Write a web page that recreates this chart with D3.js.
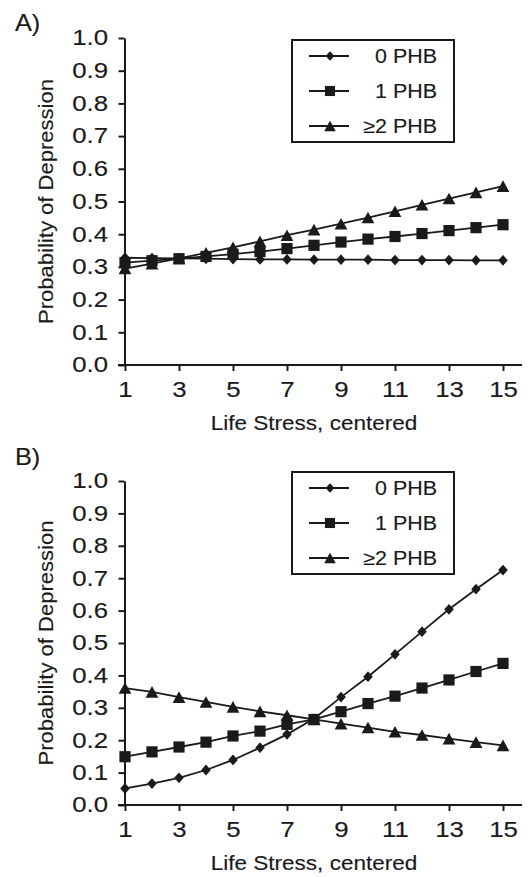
<!DOCTYPE html>
<html>
<head>
<meta charset="utf-8">
<script src="https://cdn.jsdelivr.net/npm/d3@7"></script>
<style>
  body { margin: 0; background: #fff; }
  text { font-family: "Liberation Sans", Arial, sans-serif; fill: #1a1a1a; stroke: #1a1a1a; stroke-width: 0.15px; }
</style>
</head>
<body>
<div id="chart"></div>
<script>
// Life stress values (x categories)
var stress = [1, 2, 3, 4, 5, 6, 7, 8, 9, 10, 11, 12, 13, 14, 15];
var xTicks = [1, 3, 5, 7, 9, 11, 13, 15];
var yTicks = [0, 0.1, 0.2, 0.3, 0.4, 0.5, 0.6, 0.7, 0.8, 0.9, 1.0];
var seriesNames = ["0 PHB", "1 PHB", "\u22652 PHB"];

// Panel A
var a0 = [0.328, 0.327, 0.326, 0.325, 0.324, 0.323, 0.323, 0.322, 0.322, 0.322, 0.321, 0.321, 0.321, 0.320, 0.320];
var a1 = [0.313, 0.319, 0.325, 0.332, 0.339, 0.347, 0.356, 0.366, 0.376, 0.385, 0.393, 0.402, 0.411, 0.420, 0.429];
var a2 = [0.295, 0.310, 0.326, 0.343, 0.360, 0.378, 0.397, 0.414, 0.432, 0.451, 0.470, 0.490, 0.509, 0.528, 0.547];

// Panel B
var b0 = [0.051, 0.066, 0.084, 0.108, 0.139, 0.177, 0.218, 0.266, 0.333, 0.396, 0.465, 0.535, 0.604, 0.666, 0.725];
var b1 = [0.149, 0.164, 0.179, 0.194, 0.213, 0.228, 0.249, 0.264, 0.288, 0.313, 0.336, 0.361, 0.386, 0.412, 0.437];
var b2 = [0.361, 0.349, 0.333, 0.318, 0.303, 0.289, 0.277, 0.264, 0.251, 0.239, 0.226, 0.216, 0.205, 0.194, 0.184];

var width = 530, height = 877;
var ink = "#1a1a1a";
var S = 1.1;   // text looks a bit wide in the original
var ST = 1.2;  // tick labels even wider

var svg = d3.select("#chart").append("svg")
  .attr("width", width)
  .attr("height", height);

// marker shapes
function markerPath(kind, k) {
  k = k || 1;
  if (kind === 0) {
    var w = 4.8 * k, h = 5.4 * k;
    return "M0," + (-h) + "L" + w + ",0L0," + h + "L" + (-w) + ",0Z";
  }
  if (kind === 1) {
    var s = 5.6 * k;
    return "M" + (-s) + "," + (-s) + "H" + s + "V" + s + "H" + (-s) + "Z";
  }
  var tw = 6.4 * k, th = 5.8 * k;
  return "M0," + (-th) + "L" + tw + "," + th + "L" + (-tw) + "," + th + "Z";
}

function drawPanel(cfg) {
  var g = svg.append("g");

  var x = d3.scaleLinear().domain([1, 15]).range([125, 503]);
  var y = d3.scaleLinear().domain([0, 1]).range([cfg.bottom, cfg.top]);

  // panel letter
  g.append("text")
    .attr("x", 15 / S)
    .attr("y", cfg.labelY)
    .attr("transform", "scale(" + S + ",1)")
    .style("font-size", "23px")
    .text(cfg.label);

  // y axis
  var yAxis = g.append("g")
    .attr("transform", "translate(124.5,0)")
    .call(d3.axisLeft(y).tickValues(yTicks).tickFormat(d3.format(".1f"))
      .tickSize(6).tickSizeOuter(0));
  yAxis.select(".domain").attr("stroke", ink).attr("stroke-width", 2);
  yAxis.selectAll(".tick line").attr("stroke", ink).attr("stroke-width", 2);
  yAxis.selectAll(".tick text")
    .style("font-size", "21.5px")
    .attr("fill", ink)
    .attr("x", -16.5 / ST)
    .attr("transform", "scale(" + ST + ",1)");

  // x axis
  var xAxis = g.append("g")
    .attr("transform", "translate(0," + cfg.bottom + ")")
    .call(d3.axisBottom(x).tickValues(xTicks).tickSize(6).tickSizeOuter(0).tickPadding(11));
  xAxis.select(".domain").remove();
  xAxis.append("line")
    .attr("x1", x(1) - 7).attr("x2", x(15) + 19)
    .attr("stroke", ink).attr("stroke-width", 2);
  xAxis.selectAll(".tick line").attr("stroke", ink).attr("stroke-width", 2);
  xAxis.selectAll(".tick text")
    .style("font-size", "21.5px")
    .attr("fill", ink)
    .attr("transform", "scale(" + ST + ",1)");

  // axis titles
  g.append("text")
    .attr("text-anchor", "middle")
    .attr("transform", "translate(314," + (cfg.bottom + 65) + ") scale(" + S + ",1)")
    .style("font-size", "20.5px")
    .text("Life Stress, centered");

  g.append("text")
    .attr("text-anchor", "middle")
    .attr("transform", "translate(53," + ((cfg.top + cfg.bottom) / 2) + ") rotate(-90) scale(1.05,1)")
    .style("font-size", "21px")
    .text("Probability of Depression");

  // series
  var line = d3.line()
    .x(function(d, i) { return x(stress[i]); })
    .y(function(d) { return y(d); });

  cfg.series.forEach(function(vals) {
    g.append("path")
      .datum(vals)
      .attr("d", line)
      .attr("fill", "none")
      .attr("stroke", ink)
      .attr("stroke-width", 1.8);
  });
  cfg.series.forEach(function(vals, k) {
    g.selectAll(".m" + k)
      .data(vals)
      .enter()
      .append("path")
      .attr("class", "m" + k)
      .attr("d", markerPath(k))
      .attr("transform", function(d, i) { return "translate(" + x(stress[i]) + "," + y(d) + ")"; })
      .attr("fill", ink);
  });

  // legend
  var leg = g.append("g").attr("transform", "translate(292," + cfg.legendTop + ")");
  leg.append("rect")
    .attr("width", 162).attr("height", 102)
    .attr("fill", "#fff")
    .attr("stroke", ink)
    .attr("stroke-width", 2);

  seriesNames.forEach(function(name, k) {
    var ry = 16 + k * 35;
    leg.append("line")
      .attr("x1", 17).attr("x2", 57)
      .attr("y1", ry).attr("y2", ry)
      .attr("stroke", ink).attr("stroke-width", 1.8);
    leg.append("path")
      .attr("d", markerPath(k, 0.9))
      .attr("transform", "translate(38," + ry + ")")
      .attr("fill", ink);
    leg.append("text")
      .attr("text-anchor", "end")
      .attr("transform", "translate(145," + (ry + 7) + ") scale(" + S + ",1)")
      .style("font-size", "19.5px")
      .text(name);
  });
}

drawPanel({ label: "A)", labelY: 31, top: 38, bottom: 365, legendTop: 40, series: [a0, a1, a2] });
drawPanel({ label: "B)", labelY: 465, top: 481, bottom: 805, legendTop: 472, series: [b0, b1, b2] });
</script>
</body>
</html>
